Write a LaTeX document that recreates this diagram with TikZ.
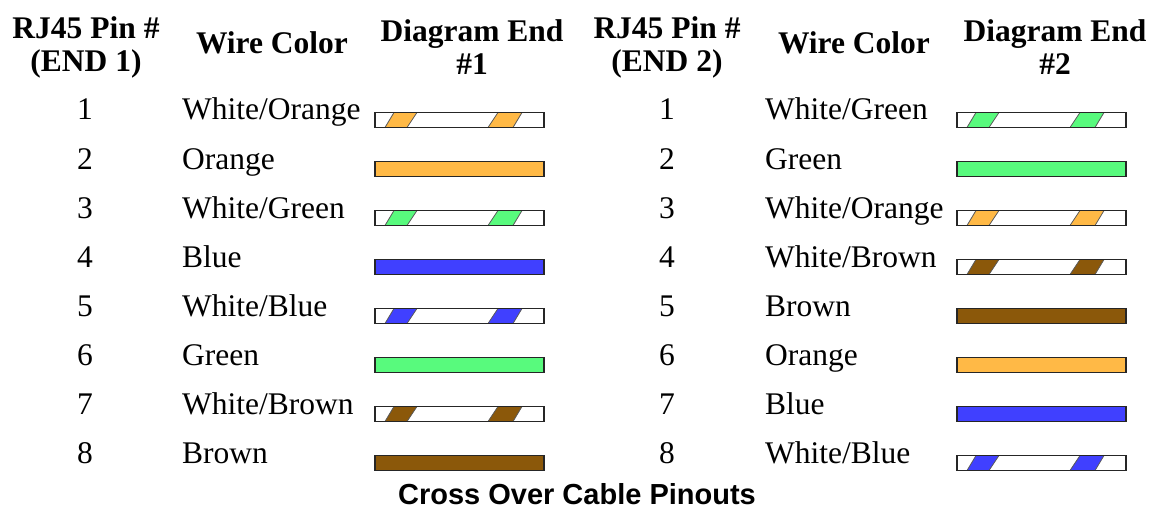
\documentclass[tikz,border=0pt]{standalone}
\usepackage{fontspec}
\setmainfont{Liberation Serif}
\newfontfamily\captionfont{Liberation Sans}
\usepackage{xcolor}
\usetikzlibrary{positioning}
\definecolor{wireorange}{RGB}{255,185,70}
\definecolor{wiregreen}{RGB}{88,250,125}
\definecolor{wireblue}{RGB}{64,64,255}
\definecolor{wirebrown}{RGB}{139,88,10}
\tikzset{
    header/.style={
        align=center,
        inner sep=0pt,
        font=\bfseries\fontsize{31.5}{33}\selectfont
    },
    pinlabel/.style={
        anchor=base,
        inner sep=0pt,
        font=\fontsize{31.5}{33}\selectfont
    },
    colorlabel/.style={
        anchor=base west,
        inner sep=0pt,
        font=\fontsize{31.5}{33}\selectfont
    }
}

\begin{document}
\begin{tikzpicture}[x=1pt,y=-1pt]
  % Define styles for the wires
  \tikzset{
    wirebar/.style={
      draw=black!85,
      line width=1.5pt,
      minimum width=169pt,
      minimum height=15pt,
      inner sep=0pt,
      outer sep=0pt
    },
    wireedge/.style={
      draw=black!85,
      line width=1.5pt
    },
    stripe/.style={
      draw=black!65,
      line width=0.8pt
    }
  }
  \useasboundingbox (0,0) rectangle (1153,508);

  % Column headers
  \node[header] (pinheadA) at (86,47) {RJ45 Pin \#\\(END 1)};
  \node[header, anchor=base] (colheadA) at (272,54) {Wire Color};
  \node[header] (diaheadA) at (472,47) {Diagram End\\\#1};
  \node[header] (pinheadB) at (667,47) {RJ45 Pin \#\\(END 2)};
  \node[header, anchor=base] (colheadB) at (854,54) {Wire Color};
  \node[header] (diaheadB) at (1055,47) {Diagram End\\\#2};

  \def\rowgap{49}

  % End 1
  \foreach \p/\txt/\col/\s in {1/{White/Orange}/wireorange/1, 2/Orange/wireorange/0,
      3/{White/Green}/wiregreen/1, 4/Blue/wireblue/0, 5/{White/Blue}/wireblue/1,
      6/Green/wiregreen/0, 7/{White/Brown}/wirebrown/1, 8/Brown/wirebrown/0} {
    \pgfmathsetmacro{\y}{120+\rowgap*(\p-1)}
    \node[pinlabel] (pinA\p) at (85,\y) {\p};
    \node[colorlabel] (nameA\p) at (182,\y) {\txt};
    \ifnum\s=1
      \node[wirebar, fill=white] (barA\p) at (459.5,\y) {};
      \begin{scope}[shift={(barA\p.south west)}]
        \filldraw[stripe, fill=\col] (10,0) -- (32,0) -- (42,-15) -- (19,-15) -- cycle;
        \filldraw[stripe, fill=\col] (113,0) -- (138,0) -- (147,-15) -- (123,-15) -- cycle;
      \end{scope}
      \draw[wireedge] (barA\p.south west) rectangle (barA\p.north east);
    \else
      \node[wirebar, fill=\col] (barA\p) at (459.5,\y) {};
    \fi
  }

  % End 2
  \foreach \p/\txt/\col/\s in {1/{White/Green}/wiregreen/1, 2/Green/wiregreen/0,
      3/{White/Orange}/wireorange/1, 4/{White/Brown}/wirebrown/1, 5/Brown/wirebrown/0,
      6/Orange/wireorange/0, 7/Blue/wireblue/0, 8/{White/Blue}/wireblue/1} {
    \pgfmathsetmacro{\y}{120+\rowgap*(\p-1)}
    \node[pinlabel] (pinB\p) at (667,\y) {\p};
    \node[colorlabel] (nameB\p) at (765,\y) {\txt};
    \ifnum\s=1
      \node[wirebar, fill=white] (barB\p) at (1041.5,\y) {};
      \begin{scope}[shift={(barB\p.south west)}]
        \filldraw[stripe, fill=\col] (10,0) -- (32,0) -- (42,-15) -- (19,-15) -- cycle;
        \filldraw[stripe, fill=\col] (113,0) -- (138,0) -- (147,-15) -- (123,-15) -- cycle;
      \end{scope}
      \draw[wireedge] (barB\p.south west) rectangle (barB\p.north east);
    \else
      \node[wirebar, fill=\col] (barB\p) at (1041.5,\y) {};
    \fi
  }

  % Caption below the table
  \node[anchor=base, inner sep=0pt, font=\captionfont\bfseries\fontsize{29}{31}\selectfont] (title) at (577,504) {Cross Over Cable Pinouts};
\end{tikzpicture}
\end{document}
